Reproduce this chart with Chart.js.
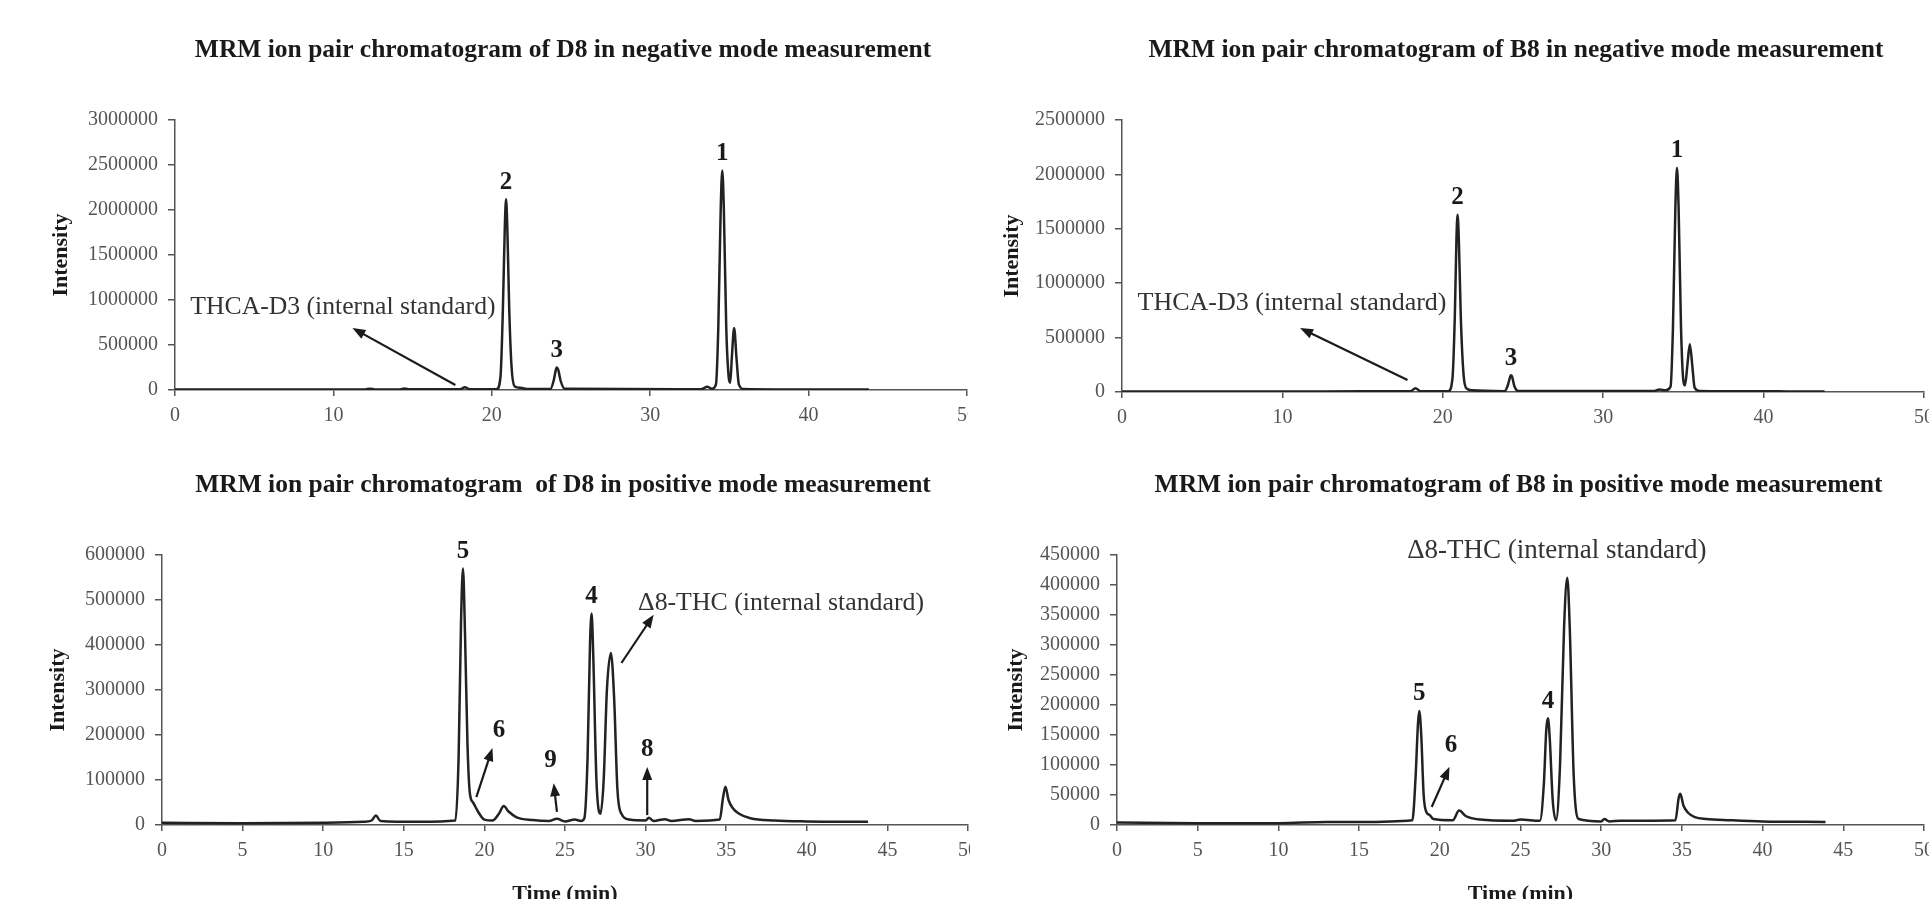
<!DOCTYPE html>
<html>
<head>
<meta charset="utf-8">
<title>MRM ion pair chromatograms</title>
<script src="https://cdn.jsdelivr.net/npm/chart.js@4.4.1/dist/chart.umd.min.js"></script>
<style>
  html, body { margin: 0; padding: 0; background: #fff; overflow: hidden; }
  body { width: 1929px; height: 899px; position: relative; }
  canvas { position: absolute; }
</style>
</head>
<body>
<canvas id="chartTL" width="968" height="440" style="left:0px;top:0px"></canvas>
<canvas id="chartTR" width="954" height="440" style="left:975px;top:0px"></canvas>
<canvas id="chartBL" width="970" height="475" style="left:0px;top:440px"></canvas>
<canvas id="chartBR" width="954" height="475" style="left:975px;top:440px"></canvas>
<script>
// D8, negative mode
const tlTime = [0, 5, 10, 12.0, 12.3, 12.6, 14.2, 14.5, 14.8, 18.0, 18.3, 18.6,
  20.3, 20.55, 20.7, 20.82, 20.9, 20.98, 21.1, 21.25, 21.45, 21.8, 22.3,
  23.7, 23.9, 24.05, 24.1, 24.2, 24.35, 24.6,
  33.2, 33.6, 33.9, 34.15, 34.3, 34.45, 34.55, 34.65, 34.8, 34.95, 35.05, 35.15, 35.3, 35.45, 35.6, 35.9, 38, 43.8];
const tlIntensity = [5000, 5000, 5000, 6000, 15000, 6000, 6000, 18000, 7000, 8000, 30000, 8000,
  8000, 150000, 900000, 1800000, 2120000, 1800000, 900000, 250000, 40000, 25000, 10000,
  10000, 100000, 230000, 250000, 220000, 100000, 15000,
  8000, 35000, 15000, 60000, 700000, 2000000, 2440000, 2000000, 700000, 150000, 80000, 350000, 690000, 350000, 60000, 10000, 6000, 5000];
const tlPeakNames = ['2', '3', '1'];
const tlPeakTimes = [20.9, 24.1, 34.55];
const tlPeakHeights = [2120000, 250000, 2440000];

// B8, negative mode
const trTime = [0, 10, 15, 18.0, 18.3, 18.6,
  20.35, 20.6, 20.75, 20.85, 20.92, 21.0, 21.12, 21.3, 21.5, 21.8,
  23.85, 24.05, 24.2, 24.25, 24.32, 24.45, 24.7,
  33.2, 33.5, 33.9, 34.2, 34.35, 34.5, 34.6, 34.7, 34.85, 35.0, 35.1, 35.25, 35.4, 35.55, 35.7, 36.0, 40, 43.8];
const trIntensity = [5000, 5000, 6000, 8000, 35000, 8000,
  8000, 120000, 700000, 1400000, 1630000, 1400000, 700000, 150000, 30000, 15000,
  8000, 60000, 140000, 155000, 140000, 60000, 10000,
  10000, 22000, 15000, 50000, 600000, 1700000, 2060000, 1700000, 600000, 100000, 60000, 250000, 440000, 250000, 40000, 10000, 6000, 5000];
const trPeakNames = ['2', '3', '1'];
const trPeakTimes = [20.92, 24.25, 34.6];
const trPeakHeights = [1630000, 155000, 2060000];

// D8, positive mode
const blTime = [0, 5, 10, 12.5, 13.0, 13.27, 13.55, 16, 18.2,
  18.4, 18.55, 18.67, 18.8, 18.95, 19.1, 19.3, 19.6, 20.0, 20.5, 20.9, 21.2, 21.5, 22.0,
  23.0, 24.0, 24.5, 25.0, 25.6, 26.0,
  26.2, 26.4, 26.55, 26.65, 26.75, 26.95, 27.2, 27.4, 27.6, 27.85, 28.05, 28.25, 28.5, 29.0, 30.0, 30.2, 30.5,
  31.2, 31.6, 32.7, 33.1, 34.6, 34.8, 34.95, 35.15, 35.4, 35.8, 36.5, 38, 40, 43.8];
const blIntensity = [5000, 4000, 5000, 7000, 10000, 21000, 9000, 7000, 10000,
  150000, 450000, 570000, 420000, 180000, 70000, 50000, 30000, 12000, 10000, 25000, 42000, 30000, 17000,
  11000, 9000, 14000, 8000, 12000, 9000,
  15000, 150000, 400000, 470000, 380000, 100000, 25000, 100000, 300000, 382000, 280000, 80000, 25000, 12000, 10000, 16000, 9000,
  13000, 9000, 13000, 9000, 12000, 60000, 85000, 55000, 38000, 25000, 15000, 10000, 8000, 7000];
const blPeakNames = ['5', '4'];
const blPeakTimes = [18.67, 26.65];
const blPeakHeights = [570000, 470000];

// B8, positive mode
const brTime = [0, 5, 10, 13, 15, 18.3, 18.5, 18.65, 18.73, 18.85, 19.0, 19.2, 19.35, 19.6,
  20.8, 21.2, 21.6, 22.5, 24.5, 25.0, 26.2,
  26.45, 26.6, 26.7, 26.8, 27.0, 27.2, 27.45, 27.7, 27.9, 28.05, 28.3, 28.6,
  30.0, 30.2, 30.5, 31.2, 34.6, 34.8, 34.9, 35.1, 35.4, 35.8, 36.5, 38, 40, 43.9];
const brIntensity = [4000, 3000, 3000, 5000, 5000, 8000, 80000, 170000, 190000, 150000, 50000, 20000, 17000, 10000,
  8000, 24000, 15000, 9000, 7000, 9000, 7000,
  70000, 160000, 178000, 150000, 40000, 8000, 100000, 330000, 412000, 330000, 80000, 10000,
  6000, 10000, 6000, 7000, 8000, 45000, 52000, 32000, 20000, 13000, 10000, 8000, 6000, 5000];
const brPeakNames = ['5', '4'];
const brPeakTimes = [18.73, 26.7];
const brPeakHeights = [190000, 178000];

const serif = "'Liberation Serif', 'Times New Roman', serif";

const panels = [
  {
    id: 'chartTL', title: 'MRM ion pair chromatogram of D8 in negative mode measurement', titleShift: -8,
    time: tlTime, intensity: tlIntensity, peakNames: tlPeakNames, peakTimes: tlPeakTimes, peakHeights: tlPeakHeights,
    yMax: 3000000, yStep: 500000, xStep: 10, timeTitle: false,
    notes: [{ text: 'THCA-D3 (internal standard)', x: 10.6, y: 922000, size: 25.7 }],
    arrows: [{ from: [17.7, 55000], to: [11.2, 689000] }],
    pad: { left: 44, top: 120, right: 1, bottom: 0 }, yWidth: 131, xHeight: 50
  },
  {
    id: 'chartTR', title: 'MRM ion pair chromatogram of B8 in negative mode measurement', titleShift: -7,
    time: trTime, intensity: trIntensity, peakNames: trPeakNames, peakTimes: trPeakTimes, peakHeights: trPeakHeights,
    yMax: 2500000, yStep: 500000, xStep: 10, timeTitle: false,
    notes: [{ text: 'THCA-D3 (internal standard)', x: 10.6, y: 818000, size: 26 }],
    arrows: [{ from: [17.8, 110000], to: [11.1, 588000] }],
    pad: { left: 20, top: 120, right: 5, bottom: 0 }, yWidth: 127, xHeight: 48
  },
  {
    id: 'chartBL', title: 'MRM ion pair chromatogram  of D8 in positive mode measurement', titleShift: -2,
    time: blTime, intensity: blIntensity, peakNames: blPeakNames, peakTimes: blPeakTimes, peakHeights: blPeakHeights,
    yMax: 600000, yStep: 100000, xStep: 5, timeTitle: true,
    notes: [
      { text: '\u03948-THC (internal standard)', x: 38.4, y: 493000, size: 25.8 },
      { text: '6', x: 20.9, y: 211000, bold: true },
      { text: '9', x: 24.1, y: 144000, bold: true },
      { text: '8', x: 30.1, y: 167000, bold: true }
    ],
    arrows: [
      { from: [19.5, 62000], to: [20.5, 171000] },
      { from: [24.5, 29000], to: [24.3, 93000] },
      { from: [30.1, 22000], to: [30.1, 129000] },
      { from: [28.5, 360000], to: [30.5, 467000] }
    ],
    pad: { left: 41, top: 115, right: 2, bottom: 3 }, yWidth: 121, xHeight: 87
  },
  {
    id: 'chartBR', title: 'MRM ion pair chromatogram of B8 in positive mode measurement', titleShift: -2,
    time: brTime, intensity: brIntensity, peakNames: brPeakNames, peakTimes: brPeakTimes, peakHeights: brPeakHeights,
    yMax: 450000, yStep: 50000, xStep: 5, timeTitle: true,
    notes: [
      { text: '\u03948-THC (internal standard)', x: 27.25, y: 457000, size: 27 },
      { text: '6', x: 20.7, y: 133000, bold: true }
    ],
    arrows: [{ from: [19.5, 30000], to: [20.6, 97000] }],
    pad: { left: 24, top: 115, right: 5, bottom: 3 }, yWidth: 118, xHeight: 87
  }
];

function drawArrow(ctx, x1, y1, x2, y2) {
  const a = Math.atan2(y2 - y1, x2 - x1);
  const len = 13, w = 5;
  ctx.beginPath();
  ctx.moveTo(x1, y1);
  ctx.lineTo(x2 - 8 * Math.cos(a), y2 - 8 * Math.sin(a));
  ctx.stroke();
  ctx.beginPath();
  ctx.moveTo(x2, y2);
  ctx.lineTo(x2 - len * Math.cos(a) + w * Math.sin(a), y2 - len * Math.sin(a) - w * Math.cos(a));
  ctx.lineTo(x2 - len * Math.cos(a) - w * Math.sin(a), y2 - len * Math.sin(a) + w * Math.cos(a));
  ctx.closePath();
  ctx.fill();
}

// titles, peak numbers, notes and arrows
function marksPlugin(panel) {
  return {
    id: 'panelMarks',
    afterDatasetsDraw(chart) {
      const { ctx, chartArea } = chart;
      const xs = chart.scales.x, ys = chart.scales.y;
      ctx.save();
      ctx.fillStyle = '#1a1a1a';
      ctx.strokeStyle = '#1a1a1a';
      ctx.textAlign = 'center';
      ctx.textBaseline = 'middle';

      ctx.font = 'bold 25.5px ' + serif;
      ctx.fillText(panel.title, (chartArea.left + chartArea.right) / 2 + panel.titleShift, chartArea.top - 70);

      ctx.font = 'bold 25px ' + serif;
      panel.peakNames.forEach((name, i) => {
        ctx.fillText(name, xs.getPixelForValue(panel.peakTimes[i]), ys.getPixelForValue(panel.peakHeights[i]) - 17);
      });

      panel.notes.forEach(n => {
        ctx.font = n.bold ? 'bold 25px ' + serif : (n.size || 24) + 'px ' + serif;
        ctx.fillStyle = n.bold ? '#1a1a1a' : '#333';
        ctx.fillText(n.text, xs.getPixelForValue(n.x), ys.getPixelForValue(n.y));
      });

      ctx.fillStyle = '#1a1a1a';
      ctx.lineWidth = 2.2;
      panel.arrows.forEach(a => {
        drawArrow(ctx,
          xs.getPixelForValue(a.from[0]), ys.getPixelForValue(a.from[1]),
          xs.getPixelForValue(a.to[0]), ys.getPixelForValue(a.to[1]));
      });
      ctx.restore();
    }
  };
}

function makeChart(panel) {
  const ctx = document.getElementById(panel.id).getContext('2d');
  const points = panel.time.map((t, i) => ({ x: t, y: panel.intensity[i] }));
  return new Chart(ctx, {
    type: 'line',
    data: {
      datasets: [{
        data: points,
        borderColor: '#222',
        borderWidth: 2.5,
        pointRadius: 0,
        cubicInterpolationMode: 'monotone',
        fill: false
      }]
    },
    options: {
      responsive: false,
      animation: false,
      events: [],
      layout: { padding: panel.pad },
      plugins: {
        legend: { display: false },
        tooltip: { enabled: false }
      },
      scales: {
        x: {
          type: 'linear',
          min: 0,
          max: 50,
          ticks: {
            stepSize: panel.xStep,
            autoSkip: false,
            maxRotation: 0,
            padding: 8,
            color: '#555',
            font: { family: serif, size: 20 },
            callback: v => String(v)
          },
          grid: { drawOnChartArea: false, tickLength: 6, color: '#555', lineWidth: 1.5 },
          border: { color: '#555', width: 1.5 },
          title: {
            display: panel.timeTitle,
            text: 'Time (min)',
            color: '#1a1a1a',
            font: { family: serif, size: 22, weight: 'bold' },
            padding: { top: 4, bottom: 4 }
          },
          afterFit: axis => {
            axis.height = panel.xHeight;
            axis.paddingRight = 0;
            axis.paddingLeft = 0;
          }
        },
        y: {
          type: 'linear',
          min: 0,
          max: panel.yMax,
          ticks: {
            stepSize: panel.yStep,
            padding: 10,
            color: '#555',
            font: { family: serif, size: 20 },
            callback: v => String(v)
          },
          grid: { drawOnChartArea: false, tickLength: 7, color: '#555', lineWidth: 1.5 },
          border: { color: '#555', width: 1.5 },
          title: {
            display: true,
            text: 'Intensity',
            color: '#1a1a1a',
            font: { family: serif, size: 22, weight: 'bold' },
            padding: { top: 4, bottom: 4 }
          },
          afterFit: axis => {
            axis.width = panel.yWidth;
          }
        }
      }
    },
    plugins: [marksPlugin(panel)]
  });
}

panels.forEach(makeChart);
</script>
</body>
</html>
